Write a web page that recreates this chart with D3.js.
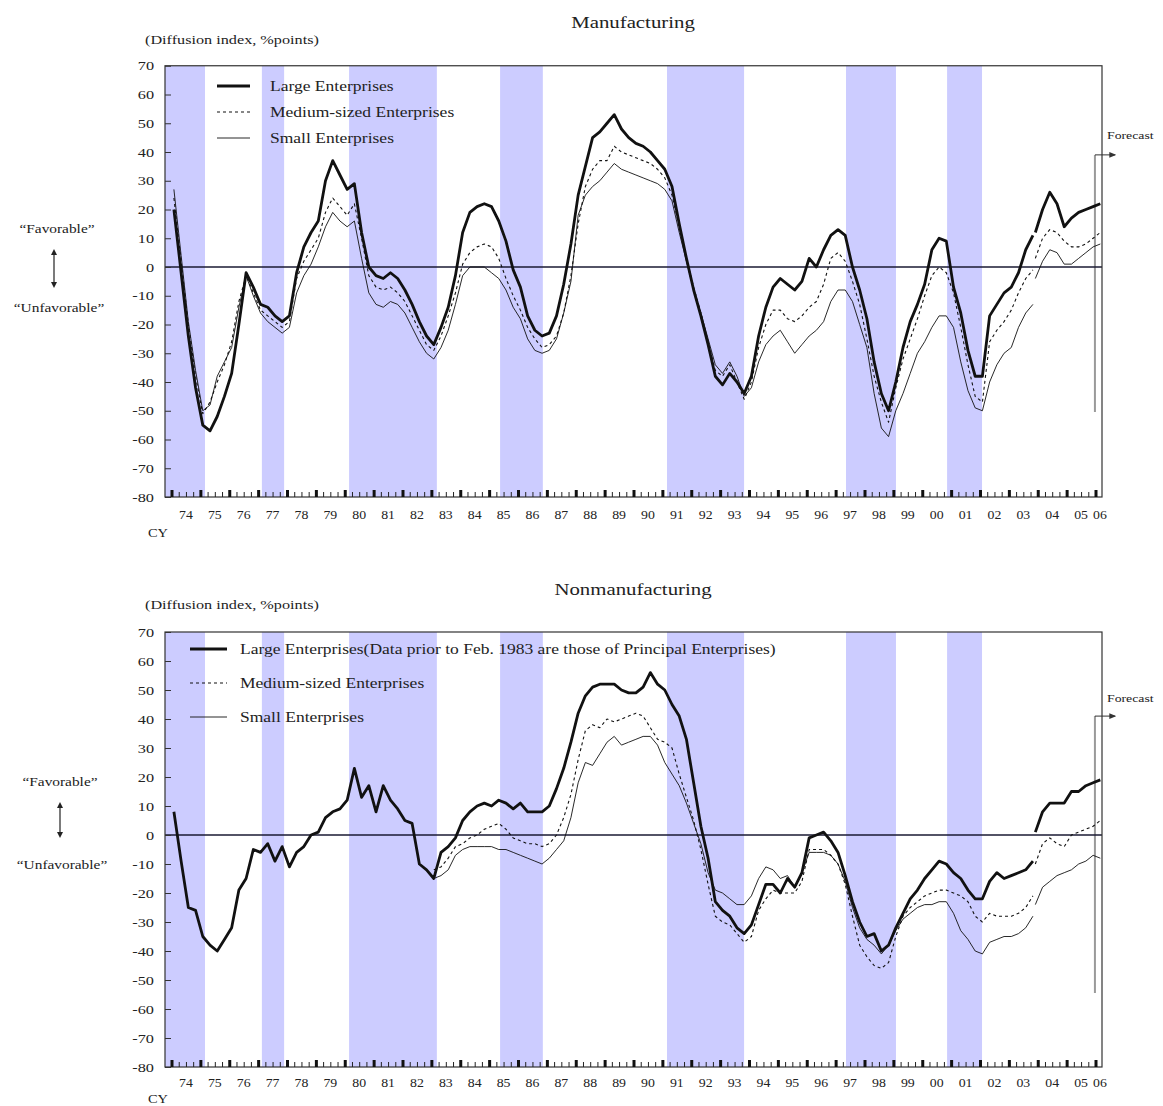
<!DOCTYPE html>
<html>
<head>
<meta charset="utf-8">
<script src="https://cdn.jsdelivr.net/npm/d3@7"></script>
<style>
  body { margin: 0; background: #fff; }
  svg text { font-family: "Liberation Serif", "Times New Roman", serif; fill: #222; }
</style>
</head>
<body>
<svg id="chart" width="1163" height="1106"></svg>
<script>
// ---- data (quarterly Tankan DI, % points) ----
// old basis: surveys Feb/May/Aug/Nov 1974..2003
const oldYears = d3.range(1974, 2004);
const oldMonths = [2, 5, 8, 11];
// new basis: Dec 2003 .. Mar 2006 (last point = forecast)
const newDates = ["2003-12", "2004-03", "2004-06", "2004-09", "2004-12",
  "2005-03", "2005-06", "2005-09", "2005-12", "2006-03"];

const mfgLarge = [
  20, -2, -24, -42, -55, -57, -52, -45, -37, -20, -2, -7, -13, -14, -17, -19,
  -17, -2, 7, 12, 16, 30, 37, 32, 27, 29, 12, 0, -3, -4, -2, -4,
  -8, -13, -19, -24, -27, -21, -14, -3, 12, 19, 21, 22, 21, 16, 9, -1,
  -7, -17, -22, -24, -23, -17, -6, 8, 25, 35, 45, 47, 50, 53, 48, 45,
  43, 42, 40, 37, 34, 28, 15, 3, -8, -17, -27, -38, -41, -37, -40, -44,
  -38, -24, -14, -7, -4, -6, -8, -5, 3, 0, 6, 11, 13, 11, 0, -8,
  -18, -33, -44, -50, -40, -28, -19, -13, -6, 6, 10, 9, -7, -16, -29, -38,
  -38, -17, -13, -9, -7, -2, 6, 11
];
const mfgMedium = [
  24, 2, -20, -38, -51, -47, -40, -34, -26, -12, -3, -9, -15, -17, -19, -21,
  -19, -4, 2, 6, 10, 19, 24, 21, 18, 22, 10, -3, -7, -8, -7, -9,
  -12, -17, -22, -27, -29, -24, -17, -9, 1, 5, 7, 8, 7, 3, -4, -10,
  -15, -21, -25, -28, -27, -24, -16, -3, 15, 28, 34, 37, 37, 42, 40, 39,
  38, 37, 36, 34, 31, 25, 14, 3, -7, -16, -26, -36, -38, -34, -40, -46,
  -40, -28, -20, -15, -15, -18, -19, -17, -14, -12, -6, 3, 5, 2, -5, -13,
  -25, -38, -47, -54, -42, -32, -25, -18, -10, -3, 0, -2, -9, -21, -34, -45,
  -47, -26, -22, -19, -15, -9, -4, -1
];
const mfgSmall = [
  27, 4, -19, -36, -50, -48, -38, -33, -28, -14, -3, -10, -16, -19, -21, -23,
  -21, -9, -3, 1, 7, 14, 19, 16, 14, 16, 3, -9, -13, -14, -12, -13,
  -16, -21, -26, -30, -32, -28, -22, -13, -3, 0, 0, 0, -2, -4, -8, -14,
  -18, -25, -29, -30, -29, -25, -16, -5, 18, 25, 28, 30, 33, 36, 34, 33,
  32, 31, 30, 29, 27, 23, 12, 2, -8, -16, -25, -34, -37, -33, -38, -45,
  -42, -33, -27, -24, -22, -26, -30, -27, -24, -22, -19, -12, -8, -8, -12, -20,
  -28, -44, -56, -59, -50, -44, -37, -30, -26, -21, -17, -17, -21, -33, -43, -49,
  -50, -40, -34, -30, -28, -21, -16, -13
];
const mfgLargeNew = [12, 20, 26, 22, 14, 17, 19, 20, 21, 22];
const mfgMediumNew = [3, 10, 13, 12, 9, 7, 7, 8, 10, 12];
const mfgSmallNew = [-4, 2, 6, 5, 1, 1, 3, 5, 7, 8];

const nonmfgLarge = [
  8, -9, -25, -26, -35, -38, -40, -36, -32, -19, -15, -5, -6, -3, -9, -4,
  -11, -6, -4, 0, 1, 6, 8, 9, 12, 23, 13, 17, 8, 17, 12, 9,
  5, 4, -10, -12, -15, -6, -4, -1, 5, 8, 10, 11, 10, 12, 11, 9,
  11, 8, 8, 8, 10, 16, 23, 32, 42, 48, 51, 52, 52, 52, 50, 49,
  49, 51, 56, 52, 50, 45, 41, 33, 18, 3, -8, -23, -26, -28, -32, -34,
  -31, -24, -17, -17, -20, -15, -18, -13, -1, 0, 1, -2, -6, -14, -23, -30,
  -35, -34, -40, -38, -32, -27, -22, -19, -15, -12, -9, -10, -13, -15, -19, -22,
  -22, -16, -13, -15, -14, -13, -12, -9
];
// medium and small nonmanufacturing start in Feb 1983
const nonmfgMedium = [
  -12, -11, -8, -4, -3, -1, 0, 2, 3, 4, 2, -1, -2, -3, -3, -4,
  -3, 0, 6, 14, 26, 36, 38, 37, 40, 39, 40, 41, 42, 41, 37, 33,
  32, 30, 21, 13, 5, -5, -17, -28, -30, -31, -34, -37, -35, -26, -22, -19,
  -20, -20, -20, -16, -5, -5, -5, -7, -10, -17, -28, -38, -42, -45, -46, -44,
  -35, -28, -25, -23, -21, -20, -19, -19, -20, -21, -23, -28, -30, -27, -28, -28,
  -28, -27, -25, -21
];
const nonmfgSmall = [
  -15, -14, -12, -7, -5, -4, -4, -4, -4, -5, -5, -6, -7, -8, -9, -10,
  -8, -5, -2, 6, 18, 25, 24, 28, 32, 34, 31, 32, 33, 34, 34, 31,
  25, 21, 17, 11, 4, -3, -13, -19, -20, -22, -24, -24, -21, -15, -11, -12,
  -15, -14, -18, -13, -6, -6, -6, -7, -10, -16, -25, -32, -36, -38, -41, -38,
  -33, -29, -27, -25, -24, -24, -23, -23, -27, -33, -36, -40, -41, -37, -36, -35,
  -35, -34, -32, -28
];
const nonmfgLargeNew = [1, 8, 11, 11, 11, 15, 15, 17, 18, 19];
const nonmfgMediumNew = [-10, -3, -1, -3, -4, 0, 1, 2, 3, 5];
const nonmfgSmallNew = [-24, -18, -16, -14, -13, -12, -10, -9, -7, -8];

// recession periods (shaded), decimal years
const recessions = [[1973.0, 1975.16], [1977.13, 1977.9], [1980.15, 1983.19],
  [1985.38, 1986.86], [1991.16, 1993.83], [1997.36, 1999.09], [2000.86, 2002.07]];

const yTicks = d3.range(-80, 71, 10);
const labelYears = d3.range(1974, 2007);
const forecastAt = 2005.98;

// ---- layout ----
const svg = d3.select("#chart");
const plotLeft = 165, plotRight = 1102;
const x = d3.scaleLinear().domain([1974, 2006]).range([171.5, 1095.5]);
const xMax = x.invert(plotRight);

const oldDates = oldYears.flatMap(yr => oldMonths.map(m => yr + (m - 1) / 12));
const newT = newDates.map(s => +s.slice(0, 4) + (+s.slice(5) - 1) / 12);

// the source lettering is a little wide; stretch glyphs horizontally
function stretch(sel, k) {
  sel.each(function () {
    const len = this.getComputedTextLength();
    d3.select(this).attr("textLength", len * k).attr("lengthAdjust", "spacingAndGlyphs");
  });
}

const styles = {
  large: { w: 2.8, dash: null },
  medium: { w: 1.1, dash: "3,3" },
  small: { w: 0.9, dash: null }
};

function drawPanel(p) {
  const y = d3.scaleLinear().domain([-80, 70]).range(p.yRange);
  const g = svg.append("g");
  const top = y(70), bottom = y(-80);

  const clipId = "clip-" + p.id;
  g.append("clipPath").attr("id", clipId)
    .append("rect").attr("x", plotLeft).attr("y", top)
    .attr("width", plotRight - plotLeft).attr("height", bottom - top);

  // recession bands
  g.append("g").attr("clip-path", `url(#${clipId})`)
    .selectAll("rect").data(recessions).join("rect")
    .attr("x", d => Math.max(plotLeft, x(d[0])))
    .attr("width", d => x(d[1]) - Math.max(plotLeft, x(d[0])))
    .attr("y", top).attr("height", bottom - top)
    .attr("fill", "#ccccff");

  // forecast marker
  const fx = x(forecastAt);
  g.append("line").attr("x1", fx).attr("x2", fx)
    .attr("y1", y(p.fcTop)).attr("y2", y(p.fcBottom))
    .attr("stroke", "#9a9a9a").attr("stroke-width", 2);
  g.append("line").attr("x1", fx).attr("x2", fx + 20)
    .attr("y1", y(p.fcTop)).attr("y2", y(p.fcTop))
    .attr("stroke", "#333").attr("stroke-width", 1)
    .attr("marker-end", "url(#arrowHead)");
  g.append("text").attr("x", 1107).attr("y", p.fcTextY)
    .attr("font-size", 11).text("Forecast").call(stretch, 1.25);

  // zero line
  g.append("line").attr("x1", plotLeft).attr("x2", plotRight)
    .attr("y1", y(0)).attr("y2", y(0))
    .attr("stroke", "#1a1a33").attr("stroke-width", 1.3);

  // series
  const line = d3.line().x(d => x(d.t)).y(d => y(d.v));
  const lg = g.append("g").attr("clip-path", `url(#${clipId})`);
  p.series.forEach(s => {
    const st = styles[s.kind];
    const pts = s.values.map((v, i) => ({ t: s.dates[i], v }));
    lg.append("path").datum(pts)
      .attr("d", line)
      .attr("fill", "none")
      .attr("stroke", "#111")
      .attr("stroke-width", st.w)
      .attr("stroke-dasharray", st.dash)
      .attr("stroke-linejoin", "round");
  });

  // frame
  g.append("rect").attr("x", plotLeft).attr("y", top)
    .attr("width", plotRight - plotLeft).attr("height", bottom - top)
    .attr("fill", "none").attr("stroke", "#333").attr("stroke-width", 1.2);

  // y axis (inner ticks, plain hyphen minus)
  const yAxis = g.append("g").attr("transform", `translate(${plotLeft},0)`)
    .call(d3.axisLeft(y).tickValues(yTicks).tickSize(-6).tickPadding(11)
      .tickFormat(d => String(d)));
  yAxis.select(".domain").remove();
  yAxis.selectAll("line").attr("stroke", "#333");
  yAxis.selectAll("text").attr("font-size", 13).attr("fill", "#333")
    .attr("font-family", "Liberation Serif").call(stretch, 1.25);

  // x axis ticks (quarters minor, years major)
  const minor = d3.range(1974, 2006.01, 0.25).filter(t => t % 1 !== 0);
  const major = d3.range(1974, 2007, 1).filter(t => t <= xMax);
  const xAxisMinor = g.append("g").attr("transform", `translate(0,${bottom})`)
    .call(d3.axisBottom(x).tickValues(minor).tickSize(-5).tickFormat(""));
  xAxisMinor.select(".domain").remove();
  xAxisMinor.selectAll("line").attr("stroke", "#222").attr("stroke-width", 1);
  const xAxisMajor = g.append("g").attr("transform", `translate(0,${bottom})`)
    .call(d3.axisBottom(x).tickValues(major).tickSize(-7).tickFormat(""));
  xAxisMajor.select(".domain").remove();
  xAxisMajor.selectAll("line").attr("stroke", "#111").attr("stroke-width", 3);

  // year labels
  g.append("g").selectAll("text").data(labelYears).join("text")
    .attr("x", d => Math.min(x(d + 0.5), plotRight - 2))
    .attr("y", p.xLabelY)
    .attr("text-anchor", "middle").attr("font-size", 12).attr("fill", "#333")
    .text(d => String(d).slice(2))
    .call(stretch, 1.15);
  g.append("text").attr("x", 148).attr("y", p.cyY).attr("font-size", 12)
    .attr("fill", "#333").text("CY").call(stretch, 1.2);

  // titles
  g.append("text").attr("x", 633).attr("y", p.titleY).attr("text-anchor", "middle")
    .attr("font-size", 16).text(p.title).call(stretch, 1.3);
  g.append("text").attr("x", 145).attr("y", p.unitY).attr("font-size", 12)
    .text("(Diffusion index, %points)").call(stretch, 1.35);

  // favorable / unfavorable
  g.append("text").attr("x", p.favX).attr("y", p.favY).attr("text-anchor", "middle")
    .attr("font-size", 12).text("\u201CFavorable\u201D").call(stretch, 1.28);
  g.append("text").attr("x", p.favX + 2).attr("y", p.unfavY).attr("text-anchor", "middle")
    .attr("font-size", 12).text("\u201CUnfavorable\u201D").call(stretch, 1.28);
  g.append("line").attr("x1", p.arrowX).attr("x2", p.arrowX)
    .attr("y1", p.arrowY[0] + 4).attr("y2", p.arrowY[1] - 4)
    .attr("stroke", "#222").attr("stroke-width", 1.2)
    .attr("marker-start", "url(#arrowUp)").attr("marker-end", "url(#arrowHead2)");

  // legend
  const leg = g.append("g");
  p.legend.forEach((lab, i) => {
    const st = styles[["large", "medium", "small"][i]];
    leg.append("line").attr("x1", p.legendX[0]).attr("x2", p.legendX[1])
      .attr("y1", p.legendY[i]).attr("y2", p.legendY[i])
      .attr("stroke", "#111").attr("stroke-width", st.w).attr("stroke-dasharray", st.dash);
    leg.append("text").attr("x", p.legendTextX).attr("y", p.legendY[i] + 5)
      .attr("font-size", 14).text(lab).call(stretch, 1.25);
  });
}

// markers
const defs = svg.append("defs");
defs.append("marker").attr("id", "arrowHead").attr("viewBox", "0 0 10 10")
  .attr("refX", 8).attr("refY", 5).attr("markerWidth", 7).attr("markerHeight", 7)
  .attr("orient", "auto").append("path").attr("d", "M0,1 L10,5 L0,9 z").attr("fill", "#333");
defs.append("marker").attr("id", "arrowHead2").attr("viewBox", "0 0 10 10")
  .attr("refX", 5).attr("refY", 5).attr("markerWidth", 5).attr("markerHeight", 5)
  .attr("orient", "auto").append("path").attr("d", "M0,0 L10,5 L0,10 z").attr("fill", "#222");
defs.append("marker").attr("id", "arrowUp").attr("viewBox", "0 0 10 10")
  .attr("refX", 5).attr("refY", 5).attr("markerWidth", 5).attr("markerHeight", 5)
  .attr("orient", "auto-start-reverse").append("path").attr("d", "M0,0 L10,5 L0,10 z").attr("fill", "#222");

drawPanel({
  id: "mfg",
  title: "Manufacturing",
  titleY: 28, unitY: 44,
  yRange: [497, 65.75],
  xLabelY: 519, cyY: 537,
  favX: 57, favY: 233, unfavY: 312, arrowX: 54, arrowY: [248, 289],
  fcTop: 39, fcBottom: -50.4, fcTextY: 139,
  legendX: [217, 250], legendTextX: 270, legendY: [86, 112, 138],
  legend: ["Large Enterprises", "Medium-sized Enterprises", "Small Enterprises"],
  series: [
    { kind: "small", values: mfgSmall, dates: oldDates },
    { kind: "medium", values: mfgMedium, dates: oldDates },
    { kind: "large", values: mfgLarge, dates: oldDates },
    { kind: "small", values: mfgSmallNew, dates: newT },
    { kind: "medium", values: mfgMediumNew, dates: newT },
    { kind: "large", values: mfgLargeNew, dates: newT }
  ]
});

drawPanel({
  id: "nonmfg",
  title: "Nonmanufacturing",
  titleY: 595, unitY: 609,
  yRange: [1067, 632],
  xLabelY: 1087, cyY: 1103,
  favX: 60, favY: 786, unfavY: 869, arrowX: 60, arrowY: [801, 839],
  fcTop: 41, fcBottom: -54.5, fcTextY: 702,
  legendX: [190, 227], legendTextX: 240, legendY: [649, 683, 717],
  legend: ["Large Enterprises(Data prior to Feb. 1983 are those of Principal Enterprises)",
    "Medium-sized Enterprises", "Small Enterprises"],
  series: [
    { kind: "small", values: nonmfgSmall, dates: oldDates.slice(36) },
    { kind: "medium", values: nonmfgMedium, dates: oldDates.slice(36) },
    { kind: "large", values: nonmfgLarge, dates: oldDates },
    { kind: "small", values: nonmfgSmallNew, dates: newT },
    { kind: "medium", values: nonmfgMediumNew, dates: newT },
    { kind: "large", values: nonmfgLargeNew, dates: newT }
  ]
});
</script>
</body>
</html>
